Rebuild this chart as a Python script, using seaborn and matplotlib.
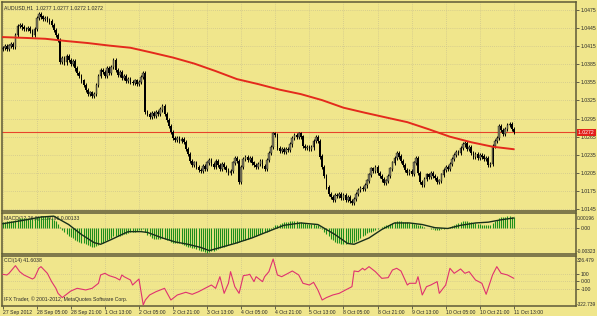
import numpy as np
import pandas as pd
import matplotlib
matplotlib.use("Agg")
import matplotlib.pyplot as plt
import seaborn as sns

# ---------------- data ----------------
closes = [
    1.0412, 1.0415, 1.0410, 1.0416, 1.0419, 1.0414, 1.0433, 1.0448, 1.0450, 1.0446,
    1.0444, 1.0443, 1.0445, 1.0440, 1.0434, 1.0444, 1.0462, 1.0468, 1.0464, 1.0460,
    1.0462, 1.0458, 1.0456, 1.0450, 1.0442, 1.0434, 1.0425, 1.0389, 1.0395, 1.0388,
    1.0398, 1.0392, 1.0385, 1.0390, 1.0378, 1.0370, 1.0366, 1.0358, 1.0350, 1.0342,
    1.0336, 1.0338, 1.0333, 1.0336, 1.0350, 1.0365, 1.0375, 1.0372, 1.0366, 1.0378,
    1.0370, 1.0380, 1.0392, 1.0375, 1.0368, 1.0372, 1.0362, 1.0366, 1.0358, 1.0360,
    1.0355, 1.0354, 1.0358, 1.0352, 1.0356, 1.0364, 1.0371, 1.0306, 1.0302, 1.0298,
    1.0304, 1.0300, 1.0306, 1.0303, 1.0310, 1.0316, 1.0302, 1.0292, 1.0283, 1.0272,
    1.0262, 1.0260, 1.0262, 1.0258, 1.0261, 1.0256, 1.0245, 1.0236, 1.0225, 1.0218,
    1.0222, 1.0214, 1.0210, 1.0208, 1.0216, 1.0212, 1.0222, 1.0226, 1.0220, 1.0215,
    1.0224, 1.0218, 1.0212, 1.0220, 1.0214, 1.0210, 1.0205, 1.0208, 1.0222, 1.0230,
    1.0224, 1.0190, 1.0215, 1.0228, 1.0231, 1.0226, 1.0230, 1.0222, 1.0218, 1.0214,
    1.0220, 1.0224, 1.0216, 1.0212, 1.0226, 1.0238, 1.0248, 1.0270, 1.0268, 1.0246,
    1.0242, 1.0244, 1.0240, 1.0245, 1.0243, 1.0252, 1.0262, 1.0268, 1.0264, 1.0270,
    1.0265, 1.0250, 1.0246, 1.0248, 1.0244, 1.0247, 1.0258, 1.0264, 1.0258, 1.0232,
    1.0215, 1.0200, 1.0182, 1.0170, 1.0165, 1.0160, 1.0168, 1.0166, 1.0170, 1.0164,
    1.0168, 1.0160, 1.0164, 1.0158, 1.0155, 1.0162, 1.0170, 1.0176, 1.0180, 1.0178,
    1.0184, 1.0192, 1.0202, 1.0212, 1.0208, 1.0215, 1.0205, 1.0200, 1.0194, 1.0188,
    1.0192, 1.0200, 1.0212, 1.0222, 1.0230, 1.0238, 1.0232, 1.0225, 1.0218, 1.0210,
    1.0205, 1.0208, 1.0203, 1.0222, 1.0230, 1.0205, 1.0190, 1.0185, 1.0195, 1.0202,
    1.0198, 1.0205, 1.0200, 1.0196, 1.0190, 1.0192, 1.0202, 1.0210, 1.0215, 1.0212,
    1.0220, 1.0228, 1.0234, 1.0240, 1.0238, 1.0246, 1.0252, 1.0254, 1.0245, 1.0248,
    1.0238, 1.0232, 1.0236, 1.0230, 1.0234, 1.0232, 1.0228, 1.0230, 1.0218, 1.0220,
    1.0250, 1.0258, 1.0262, 1.0282, 1.0276, 1.0270, 1.0278, 1.0284, 1.0286, 1.0277,
    1.0272,
]
first_open = 1.0410

ma_bars = [0, 10, 20, 30, 40, 50, 60, 70, 80, 90, 100, 110, 120,
           130, 140, 150, 160, 170, 180, 190, 200, 210, 220, 230, 240]
ma_vals = [1.04301, 1.04288, 1.04273, 1.04235, 1.04202, 1.04160, 1.04124,
           1.04044, 1.03961, 1.03861, 1.03737, 1.03604, 1.03521, 1.03429,
           1.03355, 1.03255, 1.03130, 1.03047, 1.02968, 1.02890, 1.02773,
           1.02649, 1.02557, 1.02483, 1.02441]

macd_hist = [
    0.0008, 0.0008, 0.0009, 0.0009, 0.0009, 0.0010, 0.0011, 0.0012, 0.0013, 0.0013,
    0.0013, 0.0013, 0.0012, 0.0012, 0.0012, 0.0013, 0.0014, 0.0015, 0.0016, 0.0016,
    0.0016, 0.0015, 0.0014, 0.0013, 0.0011, 0.0009, 0.0006, 0.0002, -0.0002, -0.0005,
    -0.0007, -0.0009, -0.0011, -0.0012, -0.0014, -0.0016, -0.0017, -0.0018, -0.0019, -0.0020,
    -0.0021, -0.0022, -0.0023, -0.0023, -0.0022, -0.0021, -0.0019, -0.0018, -0.0016, -0.0015,
    -0.0013, -0.0012, -0.0010, -0.0010, -0.0010, -0.0009, -0.0008, -0.0007, -0.0007, -0.0006,
    -0.0005, -0.0005, -0.0004, -0.0003, -0.0002, -0.0002, -0.0001, -0.0005, -0.0008, -0.0010,
    -0.0012, -0.0013, -0.0013, -0.0013, -0.0013, -0.0012, -0.0013, -0.0014, -0.0015, -0.0017,
    -0.0018, -0.0019, -0.0019, -0.0019, -0.0020, -0.0021, -0.0022, -0.0023, -0.0024, -0.0025,
    -0.0025, -0.0026, -0.0027, -0.0028, -0.0029, -0.0030, -0.0031, -0.0030, -0.0029, -0.0028,
    -0.0027, -0.0026, -0.0025, -0.0024, -0.0023, -0.0022, -0.0021, -0.0020, -0.0019, -0.0018,
    -0.0018, -0.0017, -0.0016, -0.0015, -0.0014, -0.0013, -0.0012, -0.0011, -0.0010, -0.0009,
    -0.0008, -0.0007, -0.0006, -0.0005, -0.0004, -0.0003, -0.0001, 0.0002, 0.0004, 0.0005,
    0.0006, 0.0007, 0.0008, 0.0008, 0.0008, 0.0009, 0.0009, 0.0009, 0.0009, 0.0008,
    0.0008, 0.0007, 0.0007, 0.0006, 0.0006, 0.0006, 0.0006, 0.0005, 0.0004, 0.0002,
    -0.0001, -0.0004, -0.0007, -0.0010, -0.0013, -0.0015, -0.0017, -0.0018, -0.0019, -0.0020,
    -0.0020, -0.0020, -0.0019, -0.0019, -0.0018, -0.0017, -0.0016, -0.0014, -0.0012, -0.0010,
    -0.0008, -0.0006, -0.0005, -0.0004, -0.0003, -0.0002, -0.0001, 0.0001, 0.0002, 0.0003,
    0.0004, 0.0005, 0.0006, 0.0007, 0.0008, 0.0009, 0.0009, 0.0009, 0.0008, 0.0008,
    0.0008, 0.0007, 0.0007, 0.0006, 0.0006, 0.0005, 0.0004, 0.0003, 0.0002, 0.0001,
    0.0000, -0.0001, -0.0001, -0.0002, -0.0002, -0.0002, -0.0001, -0.0001, 0.0000, 0.0001,
    0.0002, 0.0003, 0.0005, 0.0006, 0.0007, 0.0008, 0.0009, 0.0009, 0.0009, 0.0008,
    0.0008, 0.0007, 0.0007, 0.0006, 0.0006, 0.0005, 0.0005, 0.0004, 0.0004, 0.0004,
    0.0007, 0.0009, 0.0011, 0.0013, 0.0014, 0.0015, 0.0015, 0.0016, 0.0016, 0.0015,
    0.0014,
]

signal_bars = [0, 9, 18, 24, 31, 37, 43, 46, 51, 56, 59, 65, 68, 75, 81, 87, 93, 97,
               101, 109, 117, 125, 132, 140, 148, 156, 162, 165, 172, 178, 184, 191,
               197, 203, 209, 215, 222, 228, 234, 240]
signal_vals = [0.0006, 0.0010, 0.00145, 0.00156, 0.0005, -0.00076, -0.0018, -0.0020,
               -0.0014, -0.00076, -0.0004, -0.0004, -0.0005, -0.0012, -0.0017, -0.0020,
               -0.0024, -0.0028, -0.0025, -0.0019, -0.0012, -0.00034, 0.0004, 0.0007,
               0.0005, -0.00076, -0.0019, -0.0020, -0.0012, -0.00013, 0.0007, 0.0007,
               0.0005, 0.0001, 0.0000, 0.0004, 0.0007, 0.0008, 0.0011, 0.00133]

cci_bars = [0, 2, 3, 6, 8, 10, 14, 15, 17, 18, 21, 23, 25, 26, 28, 30, 32, 35, 39, 42,
            45, 46, 48, 50, 53, 55, 56, 57, 60, 61, 63, 64, 66, 67, 69, 72, 76, 79, 82,
            86, 89, 92, 95, 98, 100, 102, 104, 106, 107, 109, 111, 113, 115, 116, 118,
            119, 122, 123, 125, 127, 129, 131, 134, 136, 139, 141, 144, 146, 148, 150,
            152, 155, 158, 161, 164, 165, 167, 169, 170, 172, 175, 178, 181, 183, 185,
            187, 190, 191, 194, 195, 197, 199, 201, 204, 205, 208, 210, 212, 215, 217,
            219, 222, 225, 227, 230, 232, 234, 237, 240]
cci_vals = [96, 87, 109, 211, 131, 87, 33, 51, 176, 198, 109, -2, -91, -158, -215,
            -171, -127, -91, -113, -91, -24, 87, 109, 78, 51, 20, 87, 64, 20, -47, 7,
            33, -313, -247, -180, -136, -91, -247, -180, -144, -171, -136, -91, -47,
            -91, 64, -158, -24, 131, -69, -158, 78, 87, 96, -2, 64, -2, 64, 131, 300,
            87, 64, 109, 140, 87, -24, -47, -11, -113, -247, -215, -180, -158, -113,
            -69, 140, 131, 176, 153, 198, 131, 42, 51, 153, 176, 140, -47, -24, -24,
            64, -180, -69, -47, -2, -158, -47, 176, 109, 167, 109, 131, 20, -24, -171,
            87, 198, 109, 87, 42]

price_ticks = [1.0475, 1.0445, 1.0415, 1.0385, 1.0355, 1.0325, 1.0295,
               1.0265, 1.0235, 1.0205, 1.0175, 1.0145]
time_tick_bars = [0, 16, 32, 48, 64, 80, 96, 112, 128, 144, 160, 176, 192, 208, 224, 240]
time_labels = ["27 Sep 2012", "28 Sep 05:00", "28 Sep 21:00", "1 Oct 13:00",
               "2 Oct 05:00", "2 Oct 21:00", "3 Oct 13:00", "4 Oct 05:00",
               "4 Oct 21:00", "5 Oct 13:00", "8 Oct 05:00", "8 Oct 21:00",
               "9 Oct 13:00", "10 Oct 05:00", "10 Oct 21:00", "11 Oct 13:00"]
current_price = 1.0272
title_text = "AUDUSD,H1  1.0277 1.0277 1.0272 1.0272"
macd_label = "MACD(12,26,9) 0.00196 0.00133"
cci_label = "CCI(14) 41.6038"
macd_range = (-0.00323, 0.00196)
cci_range_labels = ("326.479", "-322.739")
cci_levels = [100, 0, -100]
copyright_text = "IFX Trader, \u00a9 2001-2012, MetaQuotes Software Corp."

# ---------------- styling ----------------
sns.set_theme(style="white")
plt.rcParams['font.family'] = ['Liberation Sans', 'DejaVu Sans']

BG = '#F0E68C'
GRID = '#CFC68E'
FRAME = '#5E5A38'
TXT = '#2a2a2a'
HIST = '#1C8F1C'
FS = 3.7
FS_EDGE = 3.5
W, H = 597, 316
PX_PER_BAR = 2.13

fig = plt.figure(figsize=(W / 100, H / 100), dpi=100)
fig.patch.set_facecolor(BG)


def px_axes(x0, y0, x1, y1):
    ax = fig.add_axes([x0 / W, 1 - y1 / H, (x1 - x0) / W, (y1 - y0) / H])
    ax.set_facecolor(BG)
    for s in ax.spines.values():
        s.set_color(FRAME)
        s.set_linewidth(1.1)
    ax.set_xlim(-0.3, -0.3 + (x1 - x0) / PX_PER_BAR)
    ax.set_xticks(time_tick_bars)
    ax.grid(True, color=GRID, linestyle=(0, (1, 1.5)), linewidth=0.6)
    ax.set_axisbelow(True)
    ax.yaxis.tick_right()
    ax.tick_params(axis='y', which='both', labelsize=FS, length=2, width=0.5,
                   pad=1.5, colors=TXT, right=True, left=False)
    ax.tick_params(axis='x', labelbottom=False, length=0)
    return ax


ax_p = px_axes(2, 2, 576, 211)
ax_m = px_axes(2, 213, 576, 254)
ax_c = px_axes(2, 256, 576, 306)

# ---------------- price panel ----------------
n = len(closes)
idx = np.arange(n)
c = np.array(closes)
o = np.r_[first_open, c[:-1]]
lo = np.minimum(o, c)
hi = np.maximum(o, c)
WICK = 0.00034
up = c >= o

ax_p.vlines(idx, lo - WICK, hi + WICK, color='black', linewidth=0.7, zorder=3)
ax_p.bar(idx[~up], (hi - lo)[~up] + 0.00003, bottom=lo[~up], width=0.8,
         color='black', linewidth=0, zorder=4)
ax_p.bar(idx[up], (hi - lo)[up] + 0.00003, bottom=lo[up], width=0.8,
         color='#7d7a60', edgecolor='black', linewidth=0.25, zorder=4)

ma_df = pd.DataFrame({'bar': ma_bars, 'ma': ma_vals})
sns.lineplot(data=ma_df, x='bar', y='ma', ax=ax_p, color='#E42A1C',
             linewidth=1.4, estimator=None, sort=False, zorder=5)
ax_p.axhline(current_price, color='#E8442C', linewidth=0.8, zorder=2)

top_price = price_ticks[0] + (10 - 2) / 6030
bot_price = price_ticks[-1] - (211 - 209) / 6030
ax_p.set_ylim(bot_price, top_price)
ax_p.set_yticks(price_ticks)
ax_p.set_yticklabels([f"{t:.4f}" for t in price_ticks])
ax_p.set_xlabel('')
ax_p.set_ylabel('')
ax_p.text(1.003, current_price, f"{current_price:.4f} ", transform=ax_p.get_yaxis_transform(),
          ha='left', va='center', fontsize=FS, color='white', clip_on=False, zorder=10,
          bbox=dict(facecolor='#E3201B', edgecolor='none', pad=0.7))
ax_p.text(0.004, 0.985, title_text, transform=ax_p.transAxes, ha='left', va='top',
          fontsize=FS, color=TXT, zorder=10)

# ---------------- MACD panel ----------------
hist = np.array(macd_hist)
ax_m.vlines(idx, 0, hist, color=HIST, linewidth=0.8, zorder=3)
sig_df = pd.DataFrame({'bar': signal_bars, 'sig': signal_vals})
sns.lineplot(data=sig_df, x='bar', y='sig', ax=ax_m, color='#16301A',
             linewidth=1.0, estimator=None, sort=False, zorder=4)
ax_m.set_ylim(*macd_range)
ax_m.set_yticks([0])
ax_m.set_yticklabels(['0.00'])
ax_m.set_xlabel('')
ax_m.set_ylabel('')
ax_m.text(0.004, 0.93, macd_label, transform=ax_m.transAxes, ha='left', va='top',
          fontsize=FS, color=TXT, zorder=2)
ax_m.text(1.002, 0.86, f"{macd_range[1]:.5f}", transform=ax_m.transAxes, ha='left',
          va='center', fontsize=FS_EDGE, color=TXT, clip_on=False)
ax_m.text(1.002, 0.07, f"{macd_range[0]:.5f}", transform=ax_m.transAxes, ha='left',
          va='center', fontsize=FS_EDGE, color=TXT, clip_on=False)

# ---------------- CCI panel ----------------
cci_df = pd.DataFrame({'bar': cci_bars, 'cci': cci_vals})
sns.lineplot(data=cci_df, x='bar', y='cci', ax=ax_c, color='#E0326F',
             linewidth=0.8, estimator=None, sort=False, zorder=4)
ax_c.set_ylim(-327, 340)
ax_c.set_yticks(cci_levels)
ax_c.set_yticklabels(['100', '0.00', '-100'])
ax_c.set_xlabel('')
ax_c.set_ylabel('')
ax_c.text(0.004, 0.96, cci_label, transform=ax_c.transAxes, ha='left', va='top',
          fontsize=FS, color=TXT, zorder=2)
ax_c.text(1.002, 0.90, cci_range_labels[0], transform=ax_c.transAxes, ha='left',
          va='center', fontsize=FS_EDGE, color=TXT, clip_on=False)
ax_c.text(1.002, 0.04, cci_range_labels[1], transform=ax_c.transAxes, ha='left',
          va='center', fontsize=FS_EDGE, color=TXT, clip_on=False)
ax_c.text(0.004, 0.14, copyright_text, transform=ax_c.transAxes, ha='left',
          va='center', fontsize=FS, color=TXT, zorder=6)

ax_c.tick_params(axis='x', labelbottom=True, length=2, width=0.5, pad=0.8,
                 labelsize=FS, colors=TXT, bottom=True)
ax_c.set_xticklabels(time_labels, ha='left')

fig.savefig('out.png', dpi=100, facecolor=BG)
